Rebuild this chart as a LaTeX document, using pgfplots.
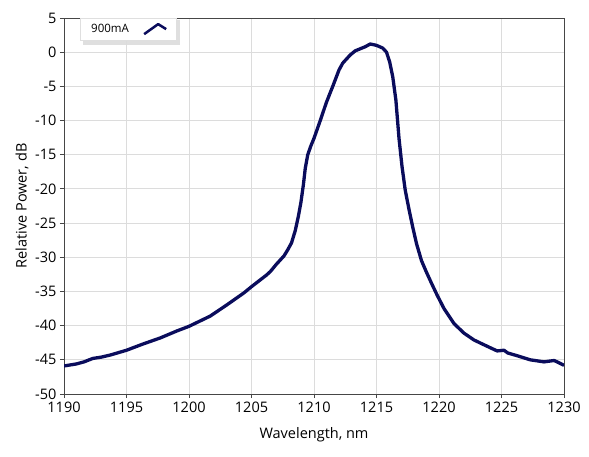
\documentclass[border=0pt]{standalone}
\usepackage{fontspec}
\setmainfont{Open Sans}
\usepackage{pgfplots}
\pgfplotsset{compat=1.18}

\definecolor{trace}{RGB}{10,12,92}
\definecolor{gridc}{RGB}{220,220,220}
\definecolor{axc}{RGB}{70,70,70}

\begin{document}
\begin{tikzpicture}[x=1pt,y=1pt]
\path[use as bounding box] (0,0) rectangle (589,456);
% legend shadow (drawn first so it stays behind)
\fill[gray!25] (83,411) rectangle (180,436);
\begin{axis}[
  at={(64pt,62pt)}, anchor=south west,
  scale only axis, width=500pt, height=376pt,
  xmin=1190, xmax=1230, ymin=-50, ymax=5,
  xtick={1190,1195,...,1230}, ytick={-50,-45,...,5},
  grid=major, major grid style={gridc, line width=0.9pt},
  axis line style={axc, line width=0.9pt},
  tick style={axc, line width=0.9pt},
  tick align=outside, major tick length=4pt,
  xtick pos=bottom, ytick pos=left,
  /pgf/number format/assume math mode=true,
  /pgf/number format/1000 sep={},
  ticklabel style={font=\fontsize{14.5}{16}\selectfont, text=black},
  label style={font=\fontsize{14.5}{16}\selectfont},
  xlabel={Wavelength, nm},
  ylabel={Relative Power, dB},
  xlabel style={at={(axis description cs:0.5,-0.109)}, anchor=center},
  ylabel style={at={(axis description cs:-0.084,0.5)}, anchor=center},
  legend plot pos=right,
  legend style={at={(axis description cs:0.032,1)}, anchor=north west,
    draw=gray!25, fill=white, font=\fontsize{11.5}{13}\selectfont,
    inner xsep=9pt, inner ysep=4pt, column sep=12pt},
  legend image code/.code={\draw[line width=2.5pt, trace] (0pt,-5pt) -- (14pt,5pt) -- (22pt,0pt);},
]
\addplot[trace, line width=3.3pt, line join=round] coordinates {
(1190,-45.9) (1191,-45.6) (1191.6,-45.3) (1192.3,-44.8) (1193,-44.6) (1193.7,-44.3)
(1195,-43.6) (1196.3,-42.7) (1197.7,-41.8) (1199,-40.8) (1200,-40.1)
(1201.7,-38.6) (1203,-37.0) (1204.4,-35.2) (1205,-34.3) (1206.2,-32.6)
(1206.5,-32.1) (1207,-31.0) (1207.3,-30.4) (1207.6,-29.8) (1207.9,-28.9)
(1208.2,-27.9) (1208.5,-26.1) (1208.75,-24.0) (1208.95,-22.0) (1209.15,-19.4)
(1209.3,-17.0) (1209.5,-15.0) (1209.75,-13.7) (1210,-12.6) (1210.5,-10.0)
(1211,-7.3) (1211.5,-5.0) (1212,-2.6) (1212.3,-1.6) (1212.9,-0.4) (1213.3,0.2)
(1213.7,0.5) (1214.1,0.8) (1214.5,1.2) (1215,1.0) (1215.5,0.6) (1215.8,0.0)
(1216.05,-1.4) (1216.3,-3.6) (1216.55,-7.0) (1216.8,-12.6) (1217.04,-16.7)
(1217.3,-20.2) (1217.6,-23.0) (1217.9,-25.6) (1218.2,-28.0) (1218.6,-30.5)
(1219,-32.2) (1219.4,-33.8) (1219.84,-35.5) (1220.4,-37.5) (1221.2,-39.7)
(1222,-41.1) (1222.8,-42.1) (1223.6,-42.8) (1224.65,-43.7) (1225.2,-43.6)
(1225.5,-44.0) (1226.25,-44.4) (1227.3,-45.0) (1228.4,-45.3) (1229.2,-45.1)
(1229.45,-45.3) (1230,-45.8)
};
\addlegendentry{900mA}
\end{axis}
\end{tikzpicture}
\end{document}
